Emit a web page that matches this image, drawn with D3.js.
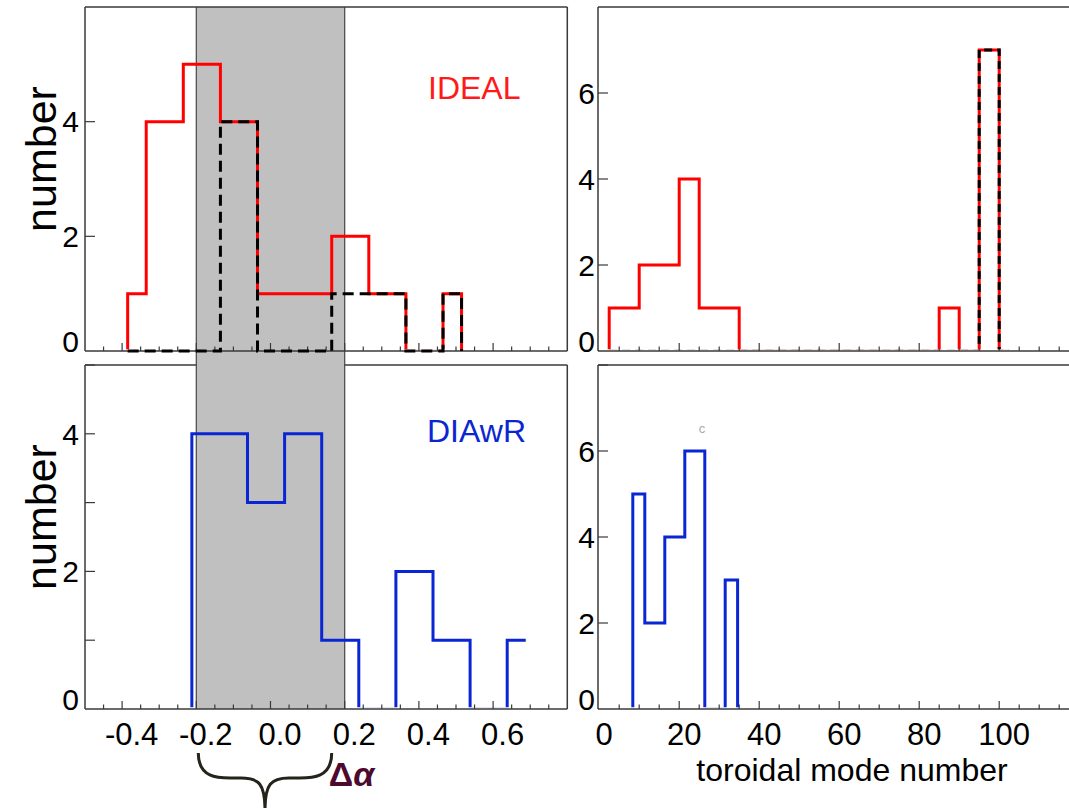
<!DOCTYPE html>
<html><head><meta charset="utf-8">
<script src="https://cdn.jsdelivr.net/npm/d3@7"></script>
<style>
body{margin:0;background:#fff}
svg{display:block}
text{font-family:"Liberation Sans",Arial,Helvetica,sans-serif}
</style>
</head><body>
<svg id="c" width="1069" height="808"></svg>
<script>
// ---------------- data ----------------
const alphaCentersIdeal = [-0.385,-0.285,-0.185,-0.085,0.015,0.115,0.215,0.315,0.415,0.515];
const alphaIdealAll     = [1,4,5,4,1,1,2,1,0,1];
const alphaIdealSel     = [0,0,0,4,0,0,1,1,0,1];
const alphaCentersDiawr = [-0.212,-0.112,-0.012,0.088,0.188,0.288,0.388,0.488,0.588,0.688];
const alphaDiawr        = [4,4,3,4,1,0,2,1,0,1];
const modeCentersIdeal  = [2.5,7.5,12.5,17.5,22.5,27.5,32.5,37.5,42.5,47.5,52.5,57.5,62.5,67.5,72.5,77.5,82.5,87.5,92.5,97.5,102.5];
const modeIdealAll      = [1,1,2,2,4,1,1,0,0,0,0,0,0,0,0,0,0,1,0,7,0];
const modeIdealSel      = [0,0,0,0,0,0,0,0,0,0,0,0,0,0,0,0,0,0,0,7,0];
const modeCentersDiawr  = [8.4,14.4,18.4,24.4,28.4,34.6];
const modeDiawr         = [5,2,4,6,0,3];
const alphaTickLabels   = [-0.4,-0.2,0.0,0.2,0.4,0.6];
const modeTickLabels    = [0,20,40,60,80,100];
const countTicksTop     = [0,2,4];
const countTicksBottom  = [0,2,4];
const modeCountTicks    = [0,2,4,6];
const deltaAlphaRange   = [-0.2,0.2];
const panelLabels       = ["IDEAL","DIAwR"];
const yTitle = "number", xTitle = "toroidal mode number";

// ---------------- layout ----------------
const svg = d3.select("#c");
const RED = "#ff0000", BLUE = "#0a26d2", FRAME = "#3a3a3a";
const xA = d3.scaleLinear().domain([-0.5,0.8]).range([85,567.3]);
const xN = d3.scaleLinear().domain([-0.3,118]).range([598,1071.2]);
const yTL = d3.scaleLinear().domain([0,6]).range([351,7]);
const yBL = d3.scaleLinear().domain([0,5]).range([709,365]);
const yTR = d3.scaleLinear().domain([0,8]).range([351,7]);
const yBR = d3.scaleLinear().domain([0,8]).range([709,365]);

const defs = svg.append("defs");
let clipId = 0;
function clipFor(x, y){
  const id = "clip"+(clipId++);
  const [x0,x1] = x.range(), [y0,y1] = y.range();
  defs.append("clipPath").attr("id", id).append("rect")
    .attr("x", x0-5).attr("y", y1).attr("width", x1-x0+10).attr("height", y0-y1-1.7);
  return "url(#"+id+")";
}

// bottom-left top border first (under gray band)
svg.append("line").attr("x1", xA.range()[0]).attr("x2", xA.range()[1])
  .attr("y1", yBL.range()[1]).attr("y2", yBL.range()[1])
  .attr("stroke", FRAME).attr("stroke-width", 1.5);

// gray band (Δα)
svg.append("rect")
  .attr("x", xA(deltaAlphaRange[0])).attr("y", yTL.range()[1])
  .attr("width", xA(deltaAlphaRange[1]) - xA(deltaAlphaRange[0]))
  .attr("height", yBL.range()[0] - yTL.range()[1])
  .attr("fill", "#c0c0c0");
deltaAlphaRange.forEach(v => svg.append("line")
  .attr("x1", xA(v)).attr("x2", xA(v)).attr("y1", yTL.range()[1]).attr("y2", yBL.range()[0])
  .attr("stroke", "#444").attr("stroke-width", 1.2));

function frame(x, y, opts){
  const g = svg.append("g");
  const [x0,x1] = x.range(), [y0,y1] = y.range();
  g.append("line").attr("x1",x0).attr("x2",x0).attr("y1",y0).attr("y2",y1);
  g.append("line").attr("x1",x0).attr("x2",x1).attr("y1",y0).attr("y2",y0);
  if (opts.top) g.append("line").attr("x1",x0).attr("x2",x1).attr("y1",y1).attr("y2",y1);
  g.append("line").attr("x1",x1).attr("x2",x1).attr("y1",y0).attr("y2",y1);
  g.selectAll("line").attr("stroke", FRAME).attr("stroke-width", 1.5);
  opts.xTicks.forEach(t => {
    g.append("line").attr("x1", x(t.v)).attr("x2", x(t.v))
      .attr("y1", y0).attr("y2", y0 - (t.major ? 8 : 4.5))
      .attr("stroke", FRAME).attr("stroke-width", 1.2);
  });
  opts.yTicks.forEach(v => {
    g.append("line").attr("x1", x0).attr("x2", x0 + 10)
      .attr("y1", y(v)).attr("y2", y(v))
      .attr("stroke", FRAME).attr("stroke-width", 1.2);
  });
  opts.yLabels.forEach(v => {
    g.append("text").attr("x", x0 - opts.yLabelGap)
      .attr("y", v === 0 ? y(v) + 1 : y(v))
      .attr("dy", v === 0 ? "0" : "0.36em")
      .attr("text-anchor","end").attr("font-size", 30).attr("fill","#000")
      .text(v);
  });
  if (opts.xLabels){
    opts.xLabels.forEach(v => {
      g.append("text").attr("x", x(v) + opts.xLabelDx).attr("y", y0 + 36)
        .attr("text-anchor","middle").attr("font-size", 31).attr("fill","#000")
        .text(opts.fmt(v));
    });
  }
}

const alphaMinor = d3.range(-9, 16).map(i => ({v: i*0.05, major: i % 4 === 0}));
const modeMinor = d3.range(1, 24).map(i => ({v: i*5, major: i % 4 === 0}));
const fmtA = v => v.toFixed(1);
const fmtN = v => String(v);

frame(xA, yTL, {top:true, xTicks: alphaMinor, yTicks:[2,4], yLabels: countTicksTop, yLabelGap: 6});
frame(xA, yBL, {top:false, xTicks: alphaMinor, yTicks:[1,2,3,4,5], yLabels: countTicksBottom, yLabelGap: 6,
  xLabels: alphaTickLabels, xLabelDx: 9.5, fmt: fmtA});
frame(xN, yTR, {top:true, xTicks: modeMinor, yTicks:[2,4,6], yLabels: modeCountTicks, yLabelGap: 3});
frame(xN, yBR, {top:true, xTicks: modeMinor, yTicks:[2,4,6,8], yLabels: modeCountTicks, yLabelGap: 3,
  xLabels: modeTickLabels, xLabelDx: 5, fmt: fmtN});

// ---------------- histograms ----------------
function hist(x, y, centers, counts, style){
  const pts = centers.map((c,i) => [c, counts[i]]);
  pts.unshift([centers[0], 0]);
  if (style.dropEnd) pts.push([centers[centers.length-1], 0]);
  const line = d3.line().x(d => x(d[0])).y(d => y(d[1])).curve(d3.curveStep);
  const p = svg.append("path").attr("d", line(pts))
    .attr("fill","none").attr("stroke", style.color).attr("stroke-width", 3)
    .attr("stroke-linejoin","miter");
  if (style.dash) p.attr("stroke-dasharray", style.dash);
  if (style.clip) p.attr("clip-path", clipFor(x, y));
}
hist(xA, yTL, alphaCentersIdeal, alphaIdealAll, {color: RED, dropEnd: true, clip: true});
hist(xA, yTL, alphaCentersIdeal, alphaIdealSel, {color: "#000", dropEnd: true, dash: "11,6"});
hist(xA, yBL, alphaCentersDiawr, alphaDiawr, {color: BLUE, dropEnd: false, clip: true});
hist(xN, yTR, modeCentersIdeal, modeIdealAll, {color: RED, dropEnd: true, clip: true});
hist(xN, yTR, modeCentersIdeal, modeIdealSel, {color: "#000", dropEnd: true, dash: "8,5", clip: true});
hist(xN, yBR, modeCentersDiawr, modeDiawr, {color: BLUE, dropEnd: true, clip: true});

// ---------------- texts ----------------
svg.append("text").attr("x", 428).attr("y", 99).attr("font-size", 32).attr("fill", "#ff1a1a").text(panelLabels[0]);
svg.append("text").attr("x", 427).attr("y", 442).attr("font-size", 32).attr("fill", BLUE).text(panelLabels[1]);
[[yTL],[yBL]].forEach(([y]) => {
  const cy = (y.range()[0] + y.range()[1]) / 2 - 20;
  svg.append("text").attr("transform", `translate(56,${cy}) rotate(-90)`)
    .attr("text-anchor","middle").attr("font-size", 43).attr("fill","#000").text(yTitle);
});
svg.append("text").attr("x", 852).attr("y", 781).attr("text-anchor","middle")
  .attr("font-size", 32).attr("fill","#000").text(xTitle);
svg.append("text").attr("x", 702).attr("y", 433).attr("text-anchor","middle")
  .attr("font-size", 13).attr("fill","#aaa").text("c");

// brace under Δα range
const bx0 = xA(deltaAlphaRange[0]) + 2, bx1 = xA(deltaAlphaRange[1]) - 13;
const bm = (bx0 + bx1) / 2, bt = 753, bh = 778, bb = 810;
const bp = d3.path();
bp.moveTo(bx0, bt);
bp.bezierCurveTo(bx0, bh, bx0 + 20, bh, bx0 + 32, bh);
bp.lineTo(bm - 24, bh);
bp.bezierCurveTo(bm - 6, bh, bm, bh + 6, bm, bb);
bp.moveTo(bx1, bt);
bp.bezierCurveTo(bx1, bh, bx1 - 20, bh, bx1 - 32, bh);
bp.lineTo(bm + 24, bh);
bp.bezierCurveTo(bm + 6, bh, bm, bh + 6, bm, bb);
svg.append("path").attr("d", bp.toString()).attr("fill","none")
  .attr("stroke","#24241a").attr("stroke-width", 3);
const da = svg.append("text").attr("x", bx1 - 3).attr("y", 786)
  .attr("font-family","DejaVu Serif, serif").attr("font-weight","bold")
  .attr("font-size", 34).attr("fill","#4e0a2e");
da.append("tspan").text("Δ");
da.append("tspan").attr("font-style","italic").text("α");
</script>
</body></html>
